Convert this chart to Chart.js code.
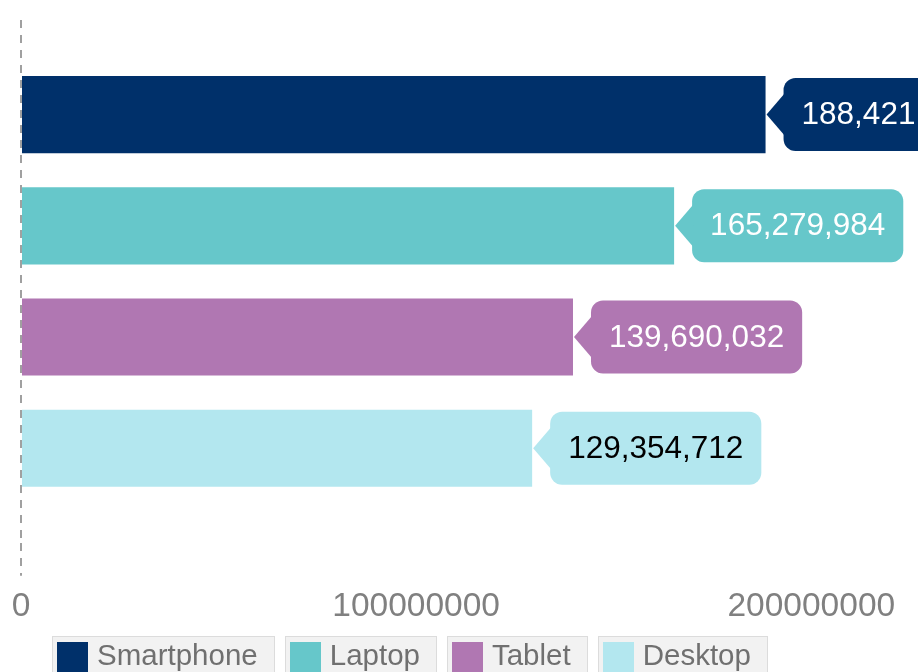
<!DOCTYPE html>
<html lang="en">
<head>
  <meta charset="UTF-8" />
  <title>Devices</title>
  <script src="https://cdn.jsdelivr.net/npm/chart.js"></script>
  <style>
    body { margin: 0; background: #fff; overflow: hidden; font-family: "Liberation Sans", Arial, sans-serif; }
    #wrap { position: relative; width: 918px; height: 672px; }
    #legend { position: absolute; left: 52px; top: 636px; display: flex; gap: 10px; }
    .item { display: flex; align-items: flex-start; background: #f2f2f2; border: 1px solid #dcdcdc; padding: 5px 16px 0 4px; height: 40px; font-size: 29.5px; color: #707070; }
    .swatch { width: 31px; height: 31px; margin-right: 9px; }
    .item span { line-height: 30px; margin-top: -2px; }
  </style>
</head>
<body>
  <div id="wrap">
    <canvas id="chart"></canvas>
    <div id="legend"></div>
  </div>

  <script>
    const categories = ['Smartphone', 'Laptop', 'Tablet', 'Desktop'];
    const values = [188421346, 165279984, 139690032, 129354712];
    const colors = ['#00306a', '#66c7ca', '#b077b2', '#b3e7ef'];
    const labelColors = ['#ffffff', '#ffffff', '#ffffff', '#000000'];
    const xTicks = [0, 100000000, 200000000];

    // legend boxes under the chart
    const legend = document.getElementById('legend');
    categories.forEach((name, i) => {
      const item = document.createElement('div');
      item.className = 'item';
      item.innerHTML = '<div class="swatch" style="background:' + colors[i] + '"></div><span>' + name + '</span>';
      legend.appendChild(item);
    });

    // speech-bubble value labels after each bar
    const callouts = {
      id: 'callouts',
      afterDatasetsDraw(chart) {
        const ctx = chart.ctx;
        ctx.save();
        ctx.font = '31.5px "Liberation Sans", Arial, sans-serif';
        chart.data.datasets.forEach((ds, i) => {
          const bar = chart.getDatasetMeta(i).data[0];
          const text = values[i].toLocaleString('en-US');
          const w = ctx.measureText(text).width + 36;
          const h = 73;
          const left = bar.x + 18;
          const top = bar.y - h / 2;
          ctx.fillStyle = colors[i];
          ctx.beginPath();
          ctx.roundRect(left, top, w, h, 12);
          ctx.fill();
          ctx.beginPath();
          ctx.moveTo(bar.x + 1, bar.y);
          ctx.lineTo(left + 1, bar.y - 21);
          ctx.lineTo(left + 1, bar.y + 21);
          ctx.closePath();
          ctx.fill();
          ctx.fillStyle = labelColors[i];
          ctx.textAlign = 'left';
          ctx.textBaseline = 'middle';
          ctx.fillText(text, left + 18, bar.y + 1);
        });
        ctx.restore();
      }
    };

    const zeroOnly = c => (c.tick && c.tick.value === 0) ? '#a0a0a0' : 'rgba(0,0,0,0)';

    new Chart(document.getElementById('chart'), {
      type: 'bar',
      data: {
        labels: [''],
        datasets: categories.map((name, i) => ({
          label: name,
          data: [values[i]],
          backgroundColor: colors[i],
          barPercentage: 0.694,
          categoryPercentage: 0.851
        }))
      },
      options: {
        indexAxis: 'y',
        responsive: true,
        maintainAspectRatio: false,
        animation: false,
        layout: { padding: { left: 21, top: 20, right: 0, bottom: 34 } },
        plugins: { legend: { display: false }, tooltip: { enabled: false } },
        scales: {
          x: {
            min: 0,
            max: 227000000,
            afterBuildTicks: axis => { axis.ticks = xTicks.map(v => ({ value: v })); },
            ticks: {
              callback: v => String(v),
              color: '#808080',
              font: { family: '"Liberation Sans", Arial, sans-serif', size: 33.5 },
              padding: 11,
              maxRotation: 0
            },
            grid: { color: zeroOnly, tickColor: zeroOnly, lineWidth: 2, tickLength: 33, tickBorderDash: [8, 7] },
            border: { display: false, dash: [8, 7] }
          },
          y: { display: false }
        }
      },
      plugins: [callouts]
    });
  </script>
</body>
</html>
